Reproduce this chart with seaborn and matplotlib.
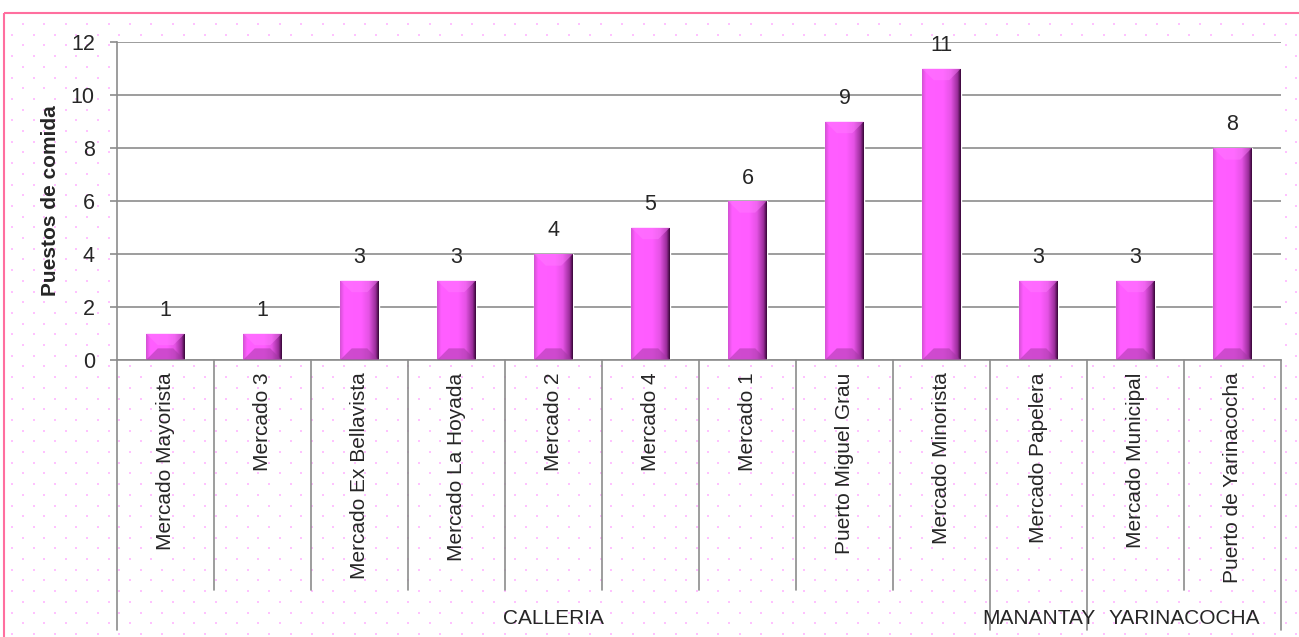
import numpy as np
import matplotlib.pyplot as plt
import seaborn as sns
from matplotlib.colors import LinearSegmentedColormap
from matplotlib.patches import Rectangle, Polygon

# Data
categories = [
    "Mercado Mayorista", "Mercado 3", "Mercado Ex Bellavista", "Mercado La Hoyada",
    "Mercado 2", "Mercado 4", "Mercado 1", "Puerto Miguel Grau", "Mercado Minorista",
    "Mercado Papelera", "Mercado Municipal", "Puerto de Yarinacocha",
]
values = [1, 1, 3, 3, 4, 5, 6, 9, 11, 3, 3, 8]
groups = ["CALLERIA", "MANANTAY", "YARINACOCHA"]
group_sizes = [9, 1, 2]
y_ticks = [0, 2, 4, 6, 8, 10, 12]

sns.set_theme(style="white")
plt.rcParams["font.family"] = ["Liberation Sans", "DejaVu Sans"]

W, H = 1299, 637
GRAY = "#8c8c8c"
fig = plt.figure(figsize=(W / 100, H / 100), dpi=100)
fig.patch.set_facecolor("white")

# dotted pink background and chart border
bg = fig.add_axes([0, 0, 1, 1], zorder=-1)
bg.set_xlim(0, W)
bg.set_ylim(H, 0)
bg.axis("off")
xs, ys = [], []
for j, y in enumerate(np.arange(24, H, 10.7)):
    start = 23 if j % 2 == 0 else 12.3
    for x in np.arange(start, W, 21.4):
        xs.append(x)
        ys.append(y)
bg.scatter(xs, ys, s=3, marker="s", color="#ffc2ff", linewidths=0)
bg.add_patch(Rectangle((4, 13), W, H, fill=False, edgecolor="#ff6f9f", lw=1.5))

# main plot
ax = fig.add_axes([117 / W, (H - 360) / H, (1281 - 117) / W, 318 / H])
ax.set_facecolor("white")
sns.barplot(x=categories, y=values, color="#ff5cff", width=0.4, saturation=1, ax=ax)
ax.set_xlim(-0.5, len(categories) - 0.5)
ax.set_ylim(0, 12)
ax.set_yticks(y_ticks)
ax.yaxis.grid(True, color=GRAY, lw=1.2)
ax.set_axisbelow(True)
for s in ["top", "right"]:
    ax.spines[s].set_visible(False)
for s in ["left", "bottom"]:
    ax.spines[s].set_color(GRAY)
    ax.spines[s].set_linewidth(1.2)
ax.tick_params(axis="y", left=True, length=5, width=1.2, color=GRAY, labelsize=15.5, pad=11)
ax.tick_params(axis="x", bottom=False, length=0, labelsize=15, pad=9)
plt.setp(ax.get_xticklabels(), rotation=90)
ax.set_xlabel("")
ax.set_ylabel("Puestos de comida", fontsize=15, fontweight="bold")
ax.yaxis.set_label_coords(-0.049, 0.5)

# bevelled bar look
cmap = LinearSegmentedColormap.from_list(
    "bev",
    [(0, "#d452d4"), (0.1, "#ff5eff"), (0.55, "#ff5cff"), (0.75, "#e452e4"),
     (0.92, "#9a2e9a"), (1, "#3c083c")],
)
grad = np.linspace(0, 1, 64).reshape(1, -1)
p0 = ax.transData.transform((0, 0))
p1 = ax.transData.transform((1, 1))
sx, sy = p1[0] - p0[0], p1[1] - p0[1]
for patch in ax.patches:
    x0, w, h = patch.get_x(), patch.get_width(), patch.get_height()
    x1 = x0 + w
    im = ax.imshow(grad, cmap=cmap, extent=[x0, x1, 0, h], aspect="auto", zorder=2)
    im.set_clip_path(patch)
    bx = 0.3 * w
    by = min(bx * sx / sy, h / 2)
    ax.add_patch(Polygon([(x0, h), (x1, h), (x1 - bx, h - by), (x0 + bx, h - by)],
                         closed=True, color="#ff7dff", alpha=0.45, lw=0, zorder=3))
    ax.add_patch(Polygon([(x0, 0), (x1, 0), (x1 - bx, by), (x0 + bx, by)],
                         closed=True, color="#a038a0", alpha=0.5, lw=0, zorder=3))
ax.set_xlim(-0.5, len(categories) - 0.5)
ax.set_ylim(0, 12)

ax.bar_label(ax.containers[0], labels=[str(v) for v in values], padding=9, fontsize=15.5)

# multi-level category axis separators
trans = ax.get_xaxis_transform()
group_edges = set(np.cumsum([0] + group_sizes))
for i in range(len(categories) + 1):
    y_end = -0.849 if i in group_edges else -0.723
    ax.plot([i - 0.5, i - 0.5], [0, y_end], transform=trans, clip_on=False,
            color=GRAY, lw=1.2)

start = 0
for name, size in zip(groups, group_sizes):
    ax.text(start + size / 2 - 0.5, -0.812, name, transform=trans,
            ha="center", va="center", fontsize=15)
    start += size

fig.savefig("out.png", dpi=100)
